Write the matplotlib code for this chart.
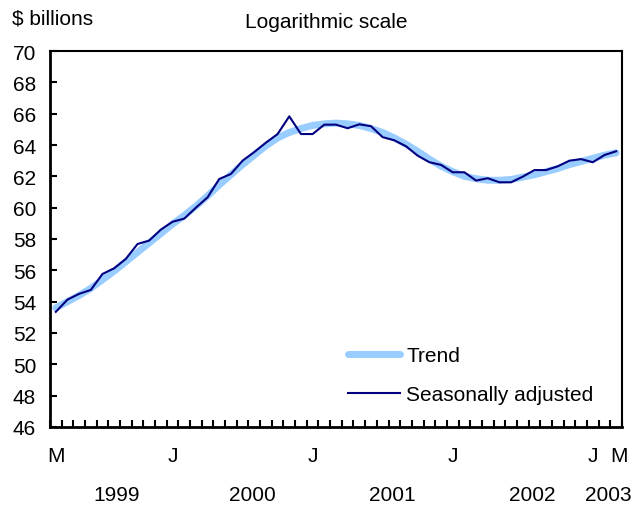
import matplotlib
matplotlib.use('Agg')
import matplotlib.pyplot as plt
import matplotlib.transforms as mtransforms
import numpy as np

plt.rcParams['font.family'] = ['Liberation Sans', 'DejaVu Sans']
plt.rcParams['font.size'] = 15

# monthly, March 1999 to March 2003
seasonally_adjusted = [53.35, 54.13, 54.5, 54.75, 55.77, 56.13, 56.73, 57.68, 57.9, 58.6,
                       59.1, 59.3, 60.0, 60.66, 61.83, 62.15, 63.0, 63.55, 64.15, 64.7,
                       65.83, 64.7, 64.7, 65.3, 65.3, 65.07, 65.32, 65.2, 64.5, 64.3,
                       63.92, 63.32, 62.9, 62.73, 62.26, 62.26, 61.73, 61.88, 61.62, 61.62,
                       61.98, 62.4, 62.4, 62.64, 63.0, 63.1, 62.9, 63.36, 63.6]
trend = [53.6, 54.0, 54.4, 54.85, 55.4, 55.95, 56.55, 57.15, 57.75, 58.35,
         58.95, 59.5, 60.1, 60.75, 61.45, 62.1, 62.75, 63.35, 63.95, 64.45,
         64.8, 65.05, 65.25, 65.35, 65.4, 65.35, 65.25, 65.05, 64.8, 64.45,
         64.05, 63.6, 63.1, 62.65, 62.3, 62.0, 61.85, 61.75, 61.75, 61.8,
         61.95, 62.1, 62.3, 62.5, 62.75, 62.95, 63.15, 63.35, 63.5]
month_labels = ['M', 'J', 'J', 'J', 'J', 'M']
month_label_pos = [0, 10, 22, 34, 46, 48.25]
year_labels = ['1999', '2000', '2001', '2002', '2003']
year_label_pos = [5.2, 16.8, 28.8, 40.8, 47.3]

x = np.arange(len(trend))

fig = plt.figure(figsize=(6.44, 5.06), dpi=100)
ax = fig.add_axes([0.0776, 0.1542, 0.8882, 0.743])

ax.plot(x, trend, color='#99ccff', lw=5, solid_capstyle='round', label='Trend')
ax.plot(x, seasonally_adjusted, color='#000080', lw=1.5, label='Seasonally adjusted')

ax.set_xlim(-0.5, len(trend) - 0.5)
ax.set_ylim(46, 70)
ax.set_yticks(np.arange(46, 71, 2))
ax.set_xticks(np.arange(-0.5, len(trend), 1))
ax.set_xticklabels([])
ax.tick_params(axis='both', direction='in', length=5, width=1.5, color='black')
ax.tick_params(axis='y', pad=10, labelsize=15)

for side in ['left', 'bottom']:
    ax.spines[side].set_linewidth(2)
for side in ['top', 'right']:
    ax.spines[side].set_linewidth(1.5)

trans = mtransforms.blended_transform_factory(ax.transData, fig.transFigure)
for lab, p in zip(month_labels, month_label_pos):
    ax.text(p, 1 - 457 / 506, lab, transform=trans, ha='center', va='center', fontsize=15)
for lab, p in zip(year_labels, year_label_pos):
    ax.text(p, 1 - 496 / 506, lab, transform=trans, ha='center', va='center', fontsize=15)

fig.text(12 / 644, 1 - 19 / 506, '$ billions', ha='left', va='center', fontsize=15)
fig.text(245 / 644, 1 - 22 / 506, 'Logarithmic scale', ha='left', va='center', fontsize=15)

ax.legend(loc='upper left', bbox_to_anchor=(348 / 644, 1 - 347 / 506),
          bbox_transform=fig.transFigure, frameon=False, fontsize=15,
          borderpad=0, borderaxespad=0,
          handlelength=2.5, handletextpad=0.3, labelspacing=0.95)

fig.savefig('out.png', dpi=100)
